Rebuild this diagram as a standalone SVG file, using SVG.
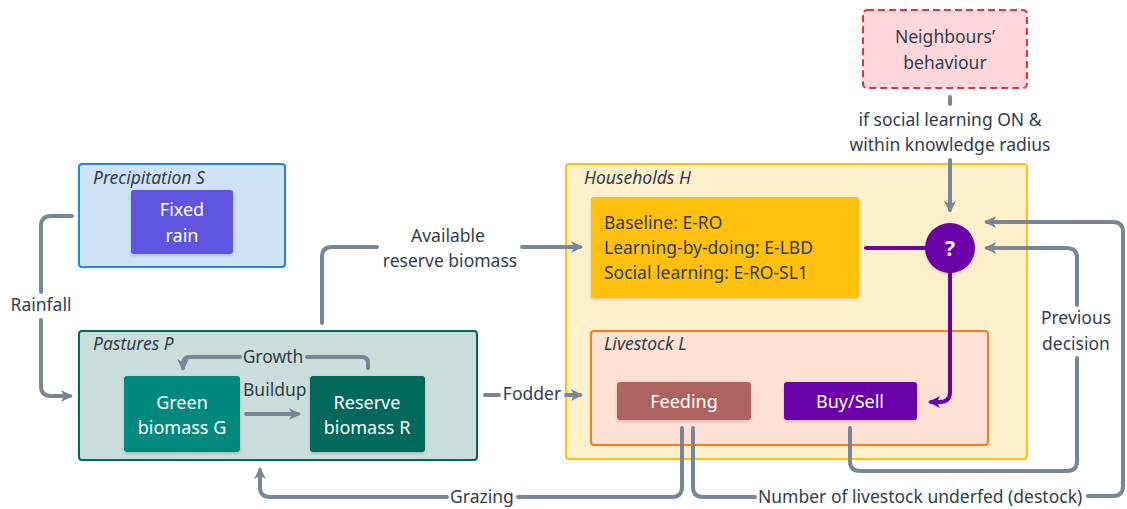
<svg xmlns="http://www.w3.org/2000/svg" width="1127" height="509" viewBox="0 0 1127 509">
<defs>
<marker id="ah" markerUnits="userSpaceOnUse" markerWidth="14" markerHeight="14" viewBox="0 0 14 14" refX="10" refY="7" orient="auto">
<path d="M1,1 L13,7 L1,13 L4,7 z" fill="#7a8696"/>
</marker>
<marker id="ahp" markerUnits="userSpaceOnUse" markerWidth="14" markerHeight="14" viewBox="0 0 14 14" refX="10" refY="7" orient="auto">
<path d="M1,1 L13,7 L1,13 L4,7 z" fill="#6a00a8"/>
</marker>
<filter id="sh" x="-10%" y="-10%" width="120%" height="130%">
<feDropShadow dx="0" dy="1.5" stdDeviation="1.5" flood-color="#000" flood-opacity="0.18"/>
</filter>
</defs>
<style>
text{font-family:"Noto Sans","Liberation Sans",sans-serif;font-size:17.5px;fill:#333d4a}
.t{font-style:italic}
.w{fill:#fff;text-anchor:middle;font-size:18px}
.c{text-anchor:middle}
.con{fill:none;stroke:#7a8696;stroke-width:4;stroke-linecap:round;stroke-linejoin:round}
.pur{fill:none;stroke:#6a00a8;stroke-width:4;stroke-linecap:round}
</style>
<g id="precipitation">
<rect x="79" y="164" width="206" height="103" rx="3" fill="#d0e2f5" stroke="#1e88e5" stroke-width="2"/>
<text x="93" y="184" class="t">Precipitation S</text>
</g>
<g id="fixed-rain">
<rect x="131" y="190" width="102" height="64" rx="3" fill="#6155e0" filter="url(#sh)"/>
<text x="182" y="216" class="w">Fixed</text>
<text x="182" y="242" class="w">rain</text>
</g>
<g id="pastures">
<rect x="79" y="331" width="398" height="129" rx="3" fill="#c9dedb" stroke="#00695c" stroke-width="2"/>
<text x="93" y="350" class="t">Pastures P</text>
</g>
<g id="green-biomass">
<rect x="124" y="376" width="116" height="76" rx="3" fill="#00897b" filter="url(#sh)"/>
<text x="182" y="409" class="w">Green</text>
<text x="182" y="434" class="w">biomass G</text>
</g>
<g id="reserve-biomass">
<rect x="310" y="376" width="115" height="76" rx="3" fill="#00695c" filter="url(#sh)"/>
<text x="367" y="409" class="w">Reserve</text>
<text x="367" y="434" class="w">biomass R</text>
</g>
<g id="households">
<rect x="566" y="164" width="461" height="295" rx="3" fill="#fff0cc" stroke="#ffc107" stroke-width="2"/>
<text x="584" y="184" class="t">Households H</text>
</g>
<g id="strategies">
<rect x="591" y="197" width="268" height="101" rx="3" fill="#ffc107" filter="url(#sh)"/>
<text x="604" y="229">Baseline: E-RO</text>
<text x="604" y="254">Learning-by-doing: E-LBD</text>
<text x="604" y="279">Social learning: E-RO-SL1</text>
</g>
<g id="livestock">
<rect x="591" y="331" width="397" height="114" rx="3" fill="#fde1d2" stroke="#f57c20" stroke-width="2"/>
<text x="604" y="350" class="t">Livestock L</text>
</g>
<g id="feeding">
<rect x="617" y="382" width="134" height="38" rx="3" fill="#ad6360" filter="url(#sh)"/>
<text x="684" y="408" class="w">Feeding</text>
</g>
<g id="buysell">
<rect x="784" y="382" width="133" height="38" rx="3" fill="#6a00a8" filter="url(#sh)"/>
<text x="850" y="408" class="w">Buy/Sell</text>
</g>
<g id="neighbours">
<rect x="863" y="10" width="164" height="78" rx="4" fill="#ffd6da" stroke="#dc3545" stroke-width="2" stroke-dasharray="7,4"/>
<text x="945" y="43" class="c">Neighbours’</text>
<text x="945" y="69" class="c">behaviour</text>
</g>
<g id="connectors">
<path class="con" d="M72,216 H51 Q41,216 41,226 V292"/>
<path class="con" d="M41,320 V386 Q41,396 51,396 H70" marker-end="url(#ah)"/>
<text x="41" y="311" class="c">Rainfall</text>
<path class="con" d="M368,368 V363 Q368,357 362,357 H307"/>
<text x="273" y="363" class="c">Growth</text>
<path class="con" d="M240,357 H190 Q183,357 183,364 V368" marker-end="url(#ah)"/>
<text x="243" y="396">Buildup</text>
<path class="con" d="M246,414 H298" marker-end="url(#ah)"/>
<path class="con" d="M322,323 V257 Q322,247 332,247 H377"/>
<text x="448" y="242" class="c">Available</text>
<text x="450" y="267" class="c">reserve biomass</text>
<path class="con" d="M522,247 H580" marker-end="url(#ah)"/>
<path class="con" d="M485,395 H499"/>
<text x="532" y="400" class="c">Fodder</text>
<path class="con" d="M566,395 H580" marker-end="url(#ah)"/>
<path class="con" d="M950,97 V104"/>
<text x="950" y="126" class="c">if social learning ON &amp;</text>
<text x="950" y="151" class="c">within knowledge radius</text>
<path class="con" d="M950,160 V210" marker-end="url(#ah)"/>
<path class="con" d="M850,428 V461 Q850,471 860,471 H1067 Q1077,471 1077,461 V358"/>
<text x="1076" y="324" class="c">Previous</text>
<text x="1076" y="350" class="c">decision</text>
<path class="con" d="M1077,305 V258 Q1077,248 1067,248 H987" marker-end="url(#ah)"/>
<path class="con" d="M1088,496 H1113 Q1123,496 1123,486 V232 Q1123,222 1113,222 H987" marker-end="url(#ah)"/>
<path class="con" d="M682,428 V487 Q682,497 672,497 H518"/>
<text x="482" y="503" class="c">Grazing</text>
<path class="con" d="M447,497 H270 Q260,497 260,487 V470" marker-end="url(#ah)"/>
<path class="con" d="M693,428 V487 Q693,497 703,497 H755"/>
<text x="758" y="503">Number of livestock underfed (destock)</text>
<path class="pur" d="M866,248 H930"/>
<path class="pur" d="M950,270 V392 Q950,402 940,402 H931" marker-end="url(#ahp)"/>
</g>
<g id="decision">
<circle cx="950" cy="248" r="25" fill="#6a00a8" filter="url(#sh)"/>
<text x="950" y="256" class="w" style="font-size:21px;font-weight:bold">?</text>
</g>
</svg>
